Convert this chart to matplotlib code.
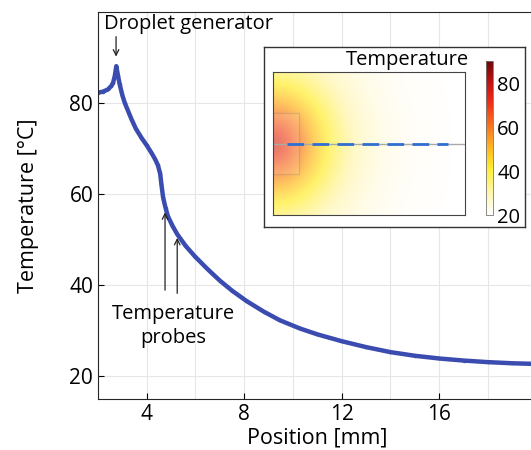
import matplotlib
matplotlib.use('AGG')

import numpy as np
import matplotlib.pyplot as plt
from matplotlib.colors import LinearSegmentedColormap
from matplotlib.patches import Rectangle

plt.rcParams['font.family'] = ['Open Sans', 'DejaVu Sans']

# Temperature profile along the channel
position = [2.0, 2.2, 2.41, 2.55, 2.62, 2.69, 2.75, 2.82, 2.89, 3.0, 3.1, 3.37, 3.55,
            3.78, 4.0, 4.19, 4.35, 4.46, 4.55, 4.6, 4.67, 4.77, 4.87, 5.05, 5.25, 5.6,
            5.98, 6.5, 7.0, 7.5, 8.1, 8.8, 9.46, 10.28, 11.0, 12, 13, 14, 15, 16, 17,
            18, 19, 20]
temperature = [82.3, 82.5, 83.0, 83.8, 84.5, 86.0, 88.1, 86.0, 84.1, 81.7, 80.0,
               76.5, 74.4, 72.4, 70.7, 69.1, 67.6, 66.3, 64.5, 62.2, 59.3, 57.0,
               55.1, 53.1, 51.2, 48.6, 46.3, 43.5, 41.0, 38.8, 36.5, 34.2, 32.3,
               30.5, 29.2, 27.7, 26.4, 25.3, 24.5, 23.9, 23.45, 23.1, 22.85, 22.7]
xticks = [4, 8, 12, 16]
yticks = [20, 40, 60, 80]
cbar_ticks = [20, 40, 60, 80]

# Colormap for the inset (white -> yellow -> red -> dark red)
cmap = LinearSegmentedColormap.from_list('heat', [
    (0.0, '#ffffff'), (0.14, '#fff6b0'), (0.3, '#ffee30'), (0.45, '#ffb020'),
    (0.6, '#f86a20'), (0.75, '#e82818'), (0.88, '#b81010'), (1.0, '#6a0808')])

fig = plt.figure(figsize=(5.31, 4.5), dpi=100)
ax = fig.add_axes([0.1846, 0.1133, 0.826, 0.86])
ax.plot(position, temperature, color='#3b4cb0', linewidth=3.2, marker='.',
        markersize=3, solid_capstyle='round')
ax.set_xlim(2, 20)
ax.set_ylim(15, 100)
ax.set_xticks(xticks)
ax.set_xticks(np.arange(2, 21, 2), minor=True)
ax.set_yticks(yticks)
ax.grid(True, which='both', color='#e6e6e6', linewidth=0.8)
ax.tick_params(direction='in', labelsize=15, length=4, which='both')
ax.tick_params(which='minor', length=0)
for s in ax.spines.values():
    s.set_color('#262626')
ax.set_xlabel('Position [mm]', fontsize=15.5, labelpad=2)
ax.set_ylabel('Temperature [°C]', fontsize=15.5, labelpad=22)

# Annotations
ax.annotate('', xy=(2.74, 89.6), xytext=(2.74, 95.2),
            arrowprops=dict(arrowstyle='->', color='#222222', lw=0.9))
ax.text(2.25, 97.3, 'Droplet generator', fontsize=14.5, va='center', ha='left')
ax.annotate('', xy=(4.75, 56.6), xytext=(4.75, 38.3),
            arrowprops=dict(arrowstyle='->', color='#222222', lw=0.9))
ax.annotate('', xy=(5.25, 51.0), xytext=(5.25, 37.6),
            arrowprops=dict(arrowstyle='->', color='#222222', lw=0.9))
ax.text(5.1, 31.0, 'Temperature\nprobes', fontsize=14.5, ha='center', va='center',
        linespacing=1.3)

# Inset with the temperature field
W, H = 531.0, 450.0
def fig_rect(x0, y0, x1, y1):
    return [x0 / W, 1 - y1 / H, (x1 - x0) / W, (y1 - y0) / H]

box = fig.add_axes(fig_rect(264, 47, 525, 227))
box.set_xticks([])
box.set_yticks([])
box.set_facecolor('white')
for s in box.spines.values():
    s.set_color('#333333')
    s.set_linewidth(1.0)

field_ax = fig.add_axes(fig_rect(273, 72, 465, 215))
u = np.linspace(0, 1, 300)
v = np.linspace(-0.5, 0.5, 220)
U, V = np.meshgrid(u, v)
d = np.sqrt((U / 0.28) ** 2 + (V / 0.42) ** 2)
field = 20 + 58 * np.exp(-d ** 1.4)
im = field_ax.imshow(field, cmap=cmap, vmin=20, vmax=90, extent=[0, 1, -0.5, 0.5],
                     origin='lower', aspect='auto', alpha=0.72)
field_ax.add_patch(Rectangle((0, -0.213), 0.135, 0.426, facecolor='#ffd0a0', alpha=0.25,
                             edgecolor='#777777', linewidth=0.9))
field_ax.plot([0, 1], [0, 0], color='#aaaaaa', linewidth=1)
field_ax.plot([0.073, 0.91], [0, 0], color='#2f6fd0', linewidth=2, dashes=(6, 3))
field_ax.set_xlim(0, 1)
field_ax.set_ylim(-0.5, 0.5)
field_ax.set_xticks([])
field_ax.set_yticks([])
for s in field_ax.spines.values():
    s.set_color('#444444')

cax = fig.add_axes(fig_rect(486, 61, 493, 215))
cb = fig.colorbar(plt.cm.ScalarMappable(norm=plt.Normalize(20, 90), cmap=cmap), cax=cax)
cb.set_ticks(cbar_ticks)
cb.ax.tick_params(labelsize=14.5, length=0, pad=3)
cb.outline.set_edgecolor('#777777')
cb.outline.set_linewidth(0.6)

fig.text(407 / W, 1 - 60 / H, 'Temperature', fontsize=14.5, ha='center', va='center')

plt.savefig('out.png', dpi=100)
